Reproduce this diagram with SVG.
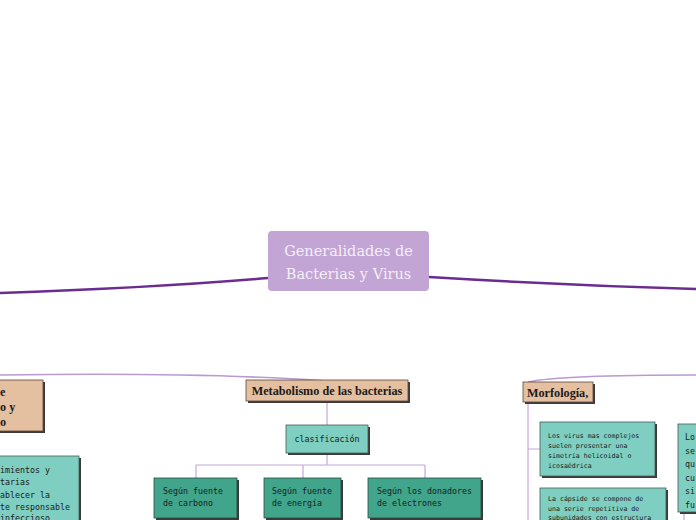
<svg xmlns="http://www.w3.org/2000/svg" width="696" height="520" viewBox="0 0 696 520">
<style>
.main{fill:none;stroke:#6a2c91;stroke-width:2.5}
.sub{fill:none;stroke:#b99ad2;stroke-width:1.6}
.br{fill:none;stroke:#c3a8da;stroke-width:1.2}
.sh{fill:#3a3a3a}
.tan{fill:#e4bfa0;stroke:#5a4a40;stroke-width:0.8}
.lt{fill:#7ecfc1;stroke:#4a5a56;stroke-width:0.8}
.dk{fill:#40a58b;stroke:#2f4a42;stroke-width:0.8}
.ht{font-family:"Liberation Serif","DejaVu Serif",serif;font-weight:bold;font-size:12.2px;fill:#1a1a1a}
.mt{font-family:"DejaVu Sans Mono","Liberation Mono",monospace;font-size:8.3px;fill:#1a1a1a}
.st{font-family:"DejaVu Sans Mono","Liberation Mono",monospace;font-size:6.6px;fill:#1a1a1a}
.ct{font-family:"DejaVu Serif","Liberation Serif",serif;font-size:14.5px;fill:#f4eef9}
</style>
<g id="connectors">
<path class="main" d="M268,278 Q150,288 0,293"/>
<path class="main" d="M429,277 Q560,285 696,289"/>
<path class="sub" d="M0,375 Q200,372 327,381"/>
<path class="sub" d="M696,375 Q560,375 528,382"/>
<path class="br" d="M327,402 V425"/>
<path class="br" d="M327,453 V465 M196,465 H425 M196,465 V478 M303,465 V478 M425,465 V478"/>
<path class="br" d="M528,402 V520 M528,449 H540"/>
<path class="br" d="M684,512 V520"/>
</g>
<g id="central">
<rect x="268" y="231" width="161" height="60" rx="4" fill="#c2a5d4"/>
<text class="ct" x="348.5" y="256" text-anchor="middle">Generalidades de</text>
<text class="ct" x="348.5" y="279" text-anchor="middle">Bacterias y Virus</text>
</g>
<g id="left-topic">
<rect class="sh" x="-10" y="382" width="55" height="51"/>
<rect class="tan" x="-12" y="380" width="55" height="51"/>
<text class="ht" x="0" y="396">e</text>
<text class="ht" x="0" y="411">o y</text>
<text class="ht" x="0" y="426">o</text>
</g>
<g id="left-detail">
<rect class="sh" x="-10" y="458" width="91" height="70"/>
<rect class="lt" x="-12" y="456" width="91" height="70"/>
<text class="mt" x="0" y="473">imientos y</text>
<text class="mt" x="0" y="485">tarias</text>
<text class="mt" x="0" y="498">ablecer la</text>
<text class="mt" x="0" y="510">te responsable</text>
<text class="mt" x="0" y="521">infeccioso</text>
</g>
<g id="metabolismo">
<rect class="sh" x="248" y="382" width="162" height="21"/>
<rect class="tan" x="246" y="380" width="162" height="21"/>
<text class="ht" x="327" y="395" text-anchor="middle">Metabolismo de las bacterias</text>
</g>
<g id="clasificacion">
<rect class="sh" x="288" y="427" width="82" height="28"/>
<rect class="lt" x="286" y="425" width="82" height="28"/>
<text class="mt" x="327" y="442" text-anchor="middle">clasificación</text>
</g>
<g id="carbono">
<rect class="sh" x="156" y="480" width="83" height="40"/>
<rect class="dk" x="154" y="478" width="83" height="40"/>
<text class="mt" x="163" y="494">Según fuente</text>
<text class="mt" x="163" y="506">de carbono</text>
</g>
<g id="energia">
<rect class="sh" x="266" y="480" width="77" height="40"/>
<rect class="dk" x="264" y="478" width="77" height="40"/>
<text class="mt" x="272" y="494">Según fuente</text>
<text class="mt" x="272" y="506">de energía</text>
</g>
<g id="donadores">
<rect class="sh" x="370" y="480" width="113" height="40"/>
<rect class="dk" x="368" y="478" width="113" height="40"/>
<text class="mt" x="377" y="494">Según los donadores</text>
<text class="mt" x="377" y="506">de electrones</text>
</g>
<g id="morfologia">
<rect class="sh" x="525" y="384" width="70" height="20"/>
<rect class="tan" x="523" y="382" width="70" height="20"/>
<text class="ht" x="527" y="396.5">Morfología,</text>
</g>
<g id="simetria">
<rect class="sh" x="542" y="424" width="115" height="54"/>
<rect class="lt" x="540" y="422" width="115" height="54"/>
<text class="st" x="548" y="438">Los virus mas complejos</text>
<text class="st" x="548" y="448">suelen presentar una</text>
<text class="st" x="548" y="458">simetría helicoidal o</text>
<text class="st" x="548" y="468">icosaédrica</text>
</g>
<g id="capside">
<rect class="sh" x="542" y="490" width="126" height="40"/>
<rect class="lt" x="540" y="488" width="126" height="40"/>
<text class="st" x="548" y="501">La cápside se compone de</text>
<text class="st" x="548" y="511">una serie repetitiva de</text>
<text class="st" x="548" y="520">subunidades con estructura</text>
</g>
<g id="right-detail">
<rect class="sh" x="680" y="426" width="30" height="88"/>
<rect class="lt" x="678" y="424" width="30" height="88"/>
<text class="mt" x="685" y="440">Lo</text>
<text class="mt" x="685" y="454">se</text>
<text class="mt" x="685" y="467">qu</text>
<text class="mt" x="685" y="481">cu</text>
<text class="mt" x="685" y="494">si</text>
<text class="mt" x="685" y="508">fu</text>
</g>
</svg>
